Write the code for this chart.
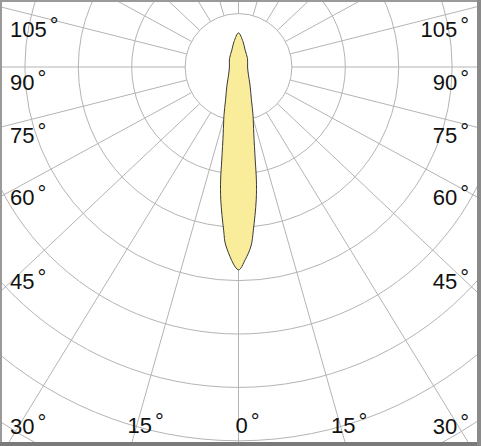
<!DOCTYPE html>
<html>
<head>
<meta charset="utf-8">
<script src="https://cdn.jsdelivr.net/npm/d3@7"></script>
<style>
  html, body { margin: 0; padding: 0; background: #fff; }
  svg { display: block; }
</style>
</head>
<body>
<div id="vis-polar"></div>
<script>
// ── data ──
// light distribution, half curve (symmetric about 0°), angle in degrees from nadir
const curveAngles = [0, 2, 4, 5.2, 7.6, 9, 10.2, 13, 16.8, 21.5, 32.6, 51, 90, 132.7, 158.5, 169.8, 180];
// intensity in grid-ring units
const curveValues = [3.8, 3.61, 3.36, 3.07, 2.51, 2.14, 1.77, 1.27, 0.94, 0.66, 0.4, 0.24, 0.17, 0.23, 0.34, 0.48, 0.64];
const ringValues = [1, 2, 3, 4, 5, 6, 7, 8];
const spokeAngles = [0, 15, 30, 45, 60, 75, 90, 105, 120, 135, 150, 165, 180];
const sideLabels = [105, 90, 75, 60, 45, 30];
const bottomLabels = [15, 0];

const W = 481,
  H = 446,
  cx = 238.5,
  cy = 67,
  ring = 53.4,
  k = 1.06; // spokes are drawn slightly stretched horizontally

const C = {
  grid: "#b4b4b4",
  fill: "#f9ed9b",
  stroke: "#3a3a3a",
  text: "#111",
};

const svg = d3
  .select("#vis-polar")
  .append("svg")
  .attr("width", W)
  .attr("height", H)
  .attr("viewBox", `0 0 ${W} ${H}`);

svg.append("rect").attr("width", W).attr("height", H).attr("fill", "#fff");

svg
  .append("clipPath")
  .attr("id", "frame")
  .append("rect")
  .attr("x", 2)
  .attr("y", 2)
  .attr("width", W - 5)
  .attr("height", H - 6);

const r = d3
  .scaleLinear()
  .domain([0, 8])
  .range([0, 8 * ring]);

const g = svg.append("g").attr("clip-path", "url(#frame)");
const c = g.append("g").attr("transform", `translate(${cx},${cy})`);

// rings
c.selectAll(".ring")
  .data(ringValues)
  .enter()
  .append("circle")
  .attr("class", "ring")
  .attr("r", (d) => r(d))
  .attr("fill", "none")
  .attr("stroke", C.grid)
  .attr("stroke-width", 1);

// spokes, both sides
function dir(deg) {
  const a = (deg * Math.PI) / 180;
  const dx = k * Math.sin(a),
    dy = Math.cos(a);
  const n = Math.hypot(dx, dy);
  return [dx / n, dy / n];
}
const spokes = [];
spokeAngles.forEach((a) => {
  spokes.push(a);
  if (a !== 0 && a !== 180) spokes.push(-a);
});
c.selectAll(".spoke")
  .data(spokes)
  .enter()
  .append("line")
  .attr("class", "spoke")
  .attr("x1", (d) => dir(d)[0] * r(1))
  .attr("y1", (d) => dir(d)[1] * r(1))
  .attr("x2", (d) => dir(d)[0] * 700)
  .attr("y2", (d) => dir(d)[1] * 700)
  .attr("stroke", C.grid)
  .attr("stroke-width", 1);

// curve (mirror the half curve)
const pts = curveAngles.map((a, i) => ({ a: a, v: curveValues[i] }));
const full = pts
  .slice(0, -1)
  .concat(
    pts
      .slice(1)
      .reverse()
      .map((d) => ({ a: -d.a, v: d.v })),
  )
  .slice(0, -1);
// d3 radial: 0 = up, clockwise; our 0° points down
const line = d3
  .lineRadial()
  .angle((d) => Math.PI - (d.a * Math.PI) / 180)
  .radius((d) => r(d.v))
  .curve(d3.curveCatmullRomClosed.alpha(0.5));
c.append("path")
  .datum(full)
  .attr("d", line)
  .attr("fill", C.fill)
  .attr("stroke", C.stroke)
  .attr("stroke-width", 1);

// labels
const font = "Arial, 'Liberation Sans', sans-serif";
function addDeg(t) {
  t.append("tspan").attr("dx", 3).attr("dy", -4).text("°");
}
const labelDx = 210.5;
sideLabels.forEach((a) => {
  const rad = (a * Math.PI) / 180;
  const yc = cy + (labelDx * Math.cos(rad)) / (k * Math.sin(rad)) + 15;
  [-1, 1].forEach((s) => {
    const t = svg
      .append("text")
      .attr("x", s < 0 ? 10 : W - 12)
      .attr("y", yc + 8)
      .attr("text-anchor", s < 0 ? "start" : "end")
      .attr("font-family", font)
      .attr("font-size", "22px")
      .attr("fill", C.text);
    t.append("tspan").text(a);
    addDeg(t);
  });
});
bottomLabels.forEach((a) => {
  const rad = (a * Math.PI) / 180;
  const xs = a === 0 ? [0] : [-1, 1];
  xs.forEach((s) => {
    const x = cx + s * (425 - cy) * k * Math.tan(rad) + 3;
    const t = svg
      .append("text")
      .attr("x", x)
      .attr("y", 433)
      .attr("text-anchor", "middle")
      .attr("font-family", font)
      .attr("font-size", "22px")
      .attr("fill", C.text);
    t.append("tspan").text(a);
    const bb = t.node().getBBox();
    t.attr("text-anchor", "start").attr("x", bb.x);
    addDeg(t);
  });
});

// frame
svg
  .append("rect")
  .attr("x", 1)
  .attr("y", 1)
  .attr("width", W - 2)
  .attr("height", H - 2)
  .attr("fill", "none")
  .attr("stroke", "#9a9a9a")
  .attr("stroke-width", 2);
svg
  .append("line")
  .attr("x1", 0)
  .attr("x2", W)
  .attr("y1", H - 2)
  .attr("y2", H - 2)
  .attr("stroke", "#7a7a7a")
  .attr("stroke-width", 4);
svg
  .append("line")
  .attr("x1", W - 2)
  .attr("x2", W - 2)
  .attr("y1", 0)
  .attr("y2", H)
  .attr("stroke", "#8a8a8a")
  .attr("stroke-width", 4);
</script>
</body>
</html>
